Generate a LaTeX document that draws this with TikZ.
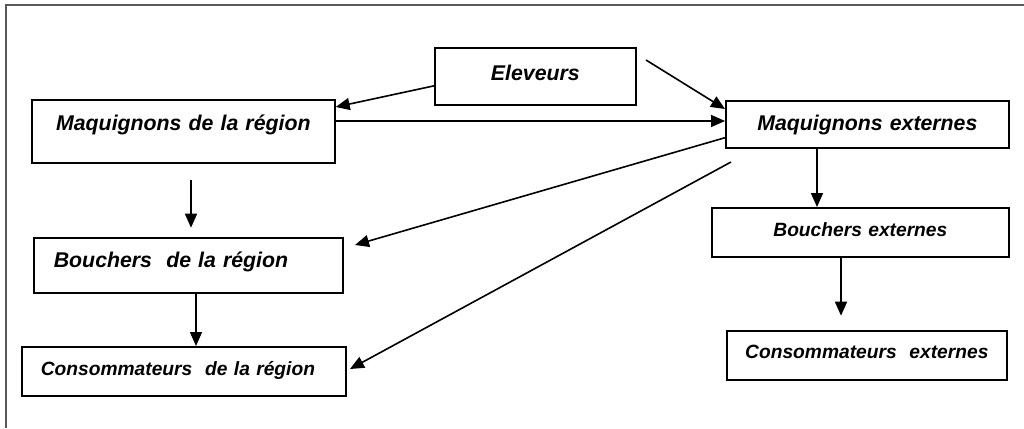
\documentclass[tikz,border=0pt]{standalone}
\usepackage{fontspec}
\setmainfont{Liberation Sans}
\usepackage{tikz}
\usetikzlibrary{shapes, arrows, arrows.meta, positioning, calc}

\tikzset{
  box/.style={draw, line width=1.7pt, inner sep=0pt, anchor=north west, align=center,
    font=\fontsize{21.3pt}{25pt}\selectfont\bfseries\itshape},
  smallbox/.style={box, font=\fontsize{19.2pt}{23pt}\selectfont\bfseries\itshape},
  arr/.style={line width=1.6pt, -{Triangle[length=14pt,width=12pt]}}
}

\begin{document}
\begin{tikzpicture}[x=1pt, y=-1pt]
			\useasboundingbox (0,0) rectangle (1024,428);
			\draw[black!65, line width=1.6pt] (6,428) -- (6,5) -- (1024,5);
			% boxes
			\node[box, text width=201pt, text height=33pt, text depth=24pt] (elev) at (434,47) {Eleveurs};
			\node[box, text width=303pt, text height=31pt, text depth=32pt] (mreg) at (31,99) {Maquignons de la région};
			\node[box, text width=283pt, text height=30pt, text depth=17pt] (mext) at (725,100) {Maquignons externes};
			\node[box, text width=309pt, text height=30pt, text depth=25pt, align=left] (breg) at (33,237) {\hspace*{20pt}Bouchers\ \ de la région};
			\node[smallbox, text width=324pt, text height=29pt, text depth=20pt, align=left] (creg) at (21,346) {\hspace*{19pt}Consommateurs\ \ de la région};
			\node[smallbox, text width=297pt, text height=29pt, text depth=20pt] (bext) at (711,207) {Bouchers externes};
			\node[smallbox, text width=280pt, text height=28pt, text depth=21pt] (cext) at (726,330) {Consommateurs\ \ externes};
			% free ends
			\coordinate (fromtop) at (646,60);
			\coordinate (tobreg) at (355,245);
			\coordinate (fromside) at (731,162);
			\coordinate (tocreg) at (350,369);
			% arrows
			\draw[arr] ([yshift=-9.5pt]elev.west) -- ([yshift=-8pt]mreg.north east);
			\draw[arr] (fromtop) -- ([yshift=-9pt]mext.north west);
			\draw[arr] ([yshift=-22pt]mreg.north east) coordinate (p) -- (p -| mext.west);
			\draw[arr] ([yshift=11pt]mext.south west) -- (tobreg);
			\draw[arr] (fromside) -- (tocreg);
			\draw[arr] ([xshift=92pt]mext.south west) coordinate (q) -- (q |- bext.north);
			\draw[arr] ([xshift=130pt]bext.south west) -- ++(0,58);
			\draw[arr] ([xshift=160pt,yshift=-16pt]mreg.south west) -- ++(0,48);
			\draw[arr] ([xshift=163pt]breg.south west) coordinate (r) -- (r |- creg.north);
		\end{tikzpicture}
\end{document}
